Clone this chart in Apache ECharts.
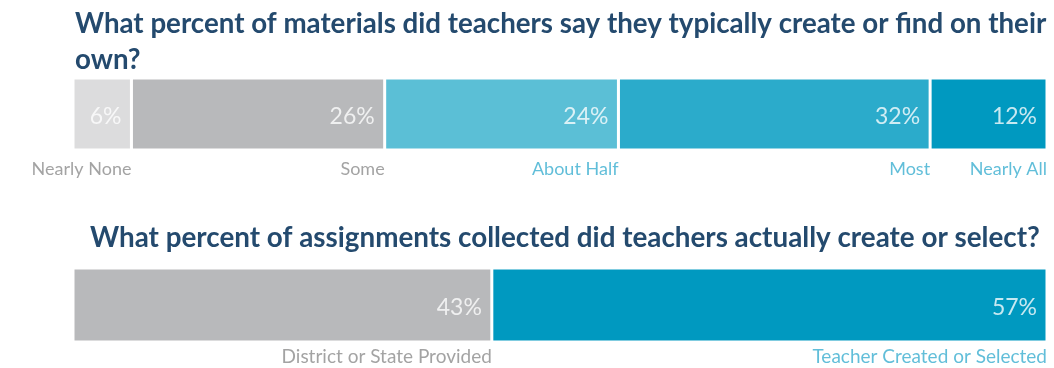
<!DOCTYPE html>
<html>
<head>
<meta charset="utf-8">
<script src="https://cdn.jsdelivr.net/npm/echarts@6/dist/echarts.min.js"></script>
<style>
  html, body { margin: 0; padding: 0; background: #ffffff; }
  #chart { width: 1054px; height: 368px; }
</style>
</head>
<body>
<div id="chart"></div>
<script>
// Survey question 1: share of materials teachers say they create or find
const materialCategories = ['Nearly None', 'Some', 'About Half', 'Most', 'Nearly All'];
const materialValues = [6, 26, 24, 32, 12];
const materialColors = ['#dcdcdd', '#b8b9bb', '#5bbfd6', '#2babcb', '#0099c0'];
const materialLabelColors = ['#8c8c8c', '#8c8c8c', '#3aaed0', '#3aaed0', '#3aaed0'];

// Survey question 2: share of collected assignments by source
const assignmentCategories = ['District or State Provided', 'Teacher Created or Selected'];
const assignmentValues = [43, 57];
const assignmentColors = ['#b8b9bb', '#0099c0'];
const assignmentLabelColors = ['#8c8c8c', '#3aaed0'];

const titleFont = 'Lato, sans-serif';
const bodyFont = 'Lato, sans-serif';

function stackedSeries(categories, values, colors, labelColors, gridIndex, nameOffset, nameSize) {
  const series = [];
  let cumulative = 0;
  const ends = [];
  categories.forEach((cat, i) => {
    cumulative += values[i];
    ends.push(cumulative);
    series.push({
      type: 'bar',
      name: cat,
      stack: 'total' + gridIndex,
      xAxisIndex: gridIndex,
      yAxisIndex: gridIndex,
      barWidth: '100%',
      data: [values[i]],
      itemStyle: { color: colors[i], borderColor: '#ffffff', borderWidth: 1.5 },
      label: {
        show: true,
        position: 'insideRight',
        distance: 10,
        offset: [0, 3],
        formatter: '{c}%',
        color: 'rgba(255,255,255,0.78)',
        fontFamily: bodyFont,
        fontSize: 23
      },
      silent: true
    });
  });
  // category names placed under the right edge of each segment
  series.push({
    type: 'scatter',
    xAxisIndex: gridIndex,
    yAxisIndex: gridIndex,
    symbolSize: 0,
    silent: true,
    data: categories.map((cat, i) => ({
      value: [ends[i], 0],
      name: cat,
      label: { color: labelColors[i] }
    })),
    label: {
      show: true,
      position: 'bottom',
      distance: nameOffset,
      align: 'right',
      formatter: p => p.name,
      fontFamily: bodyFont,
      fontSize: nameSize
    }
  });
  return series;
}

const chart = echarts.init(document.getElementById('chart'));
chart.setOption({
  animation: false,
  backgroundColor: '#ffffff',
  title: [
    {
      text: 'What percent of materials did teachers say they typically create or find on their\nown?',
      left: 70,
      top: 1,
      textStyle: { color: '#244a6e', fontFamily: titleFont, fontSize: 27.7, fontWeight: 'bold', lineHeight: 36 }
    },
    {
      text: 'What percent of assignments collected did teachers actually create or select?',
      left: 85,
      top: 219,
      textStyle: { color: '#244a6e', fontFamily: titleFont, fontSize: 27.8, fontWeight: 'bold' }
    }
  ],
  grid: [
    { left: 73, right: 7, top: 78, height: 72 },
    { left: 73, right: 7, top: 268, height: 74 }
  ],
  xAxis: [
    { type: 'value', gridIndex: 0, min: 0, max: 100, show: false },
    { type: 'value', gridIndex: 1, min: 0, max: 100, show: false }
  ],
  yAxis: [
    { type: 'category', gridIndex: 0, data: ['q1'], show: false },
    { type: 'category', gridIndex: 1, data: ['q2'], show: false }
  ],
  series: [
    ...stackedSeries(materialCategories, materialValues, materialColors, materialLabelColors, 0, 46, 18),
    ...stackedSeries(assignmentCategories, assignmentValues, assignmentColors, assignmentLabelColors, 1, 42, 19)
  ]
});
</script>
</body>
</html>
